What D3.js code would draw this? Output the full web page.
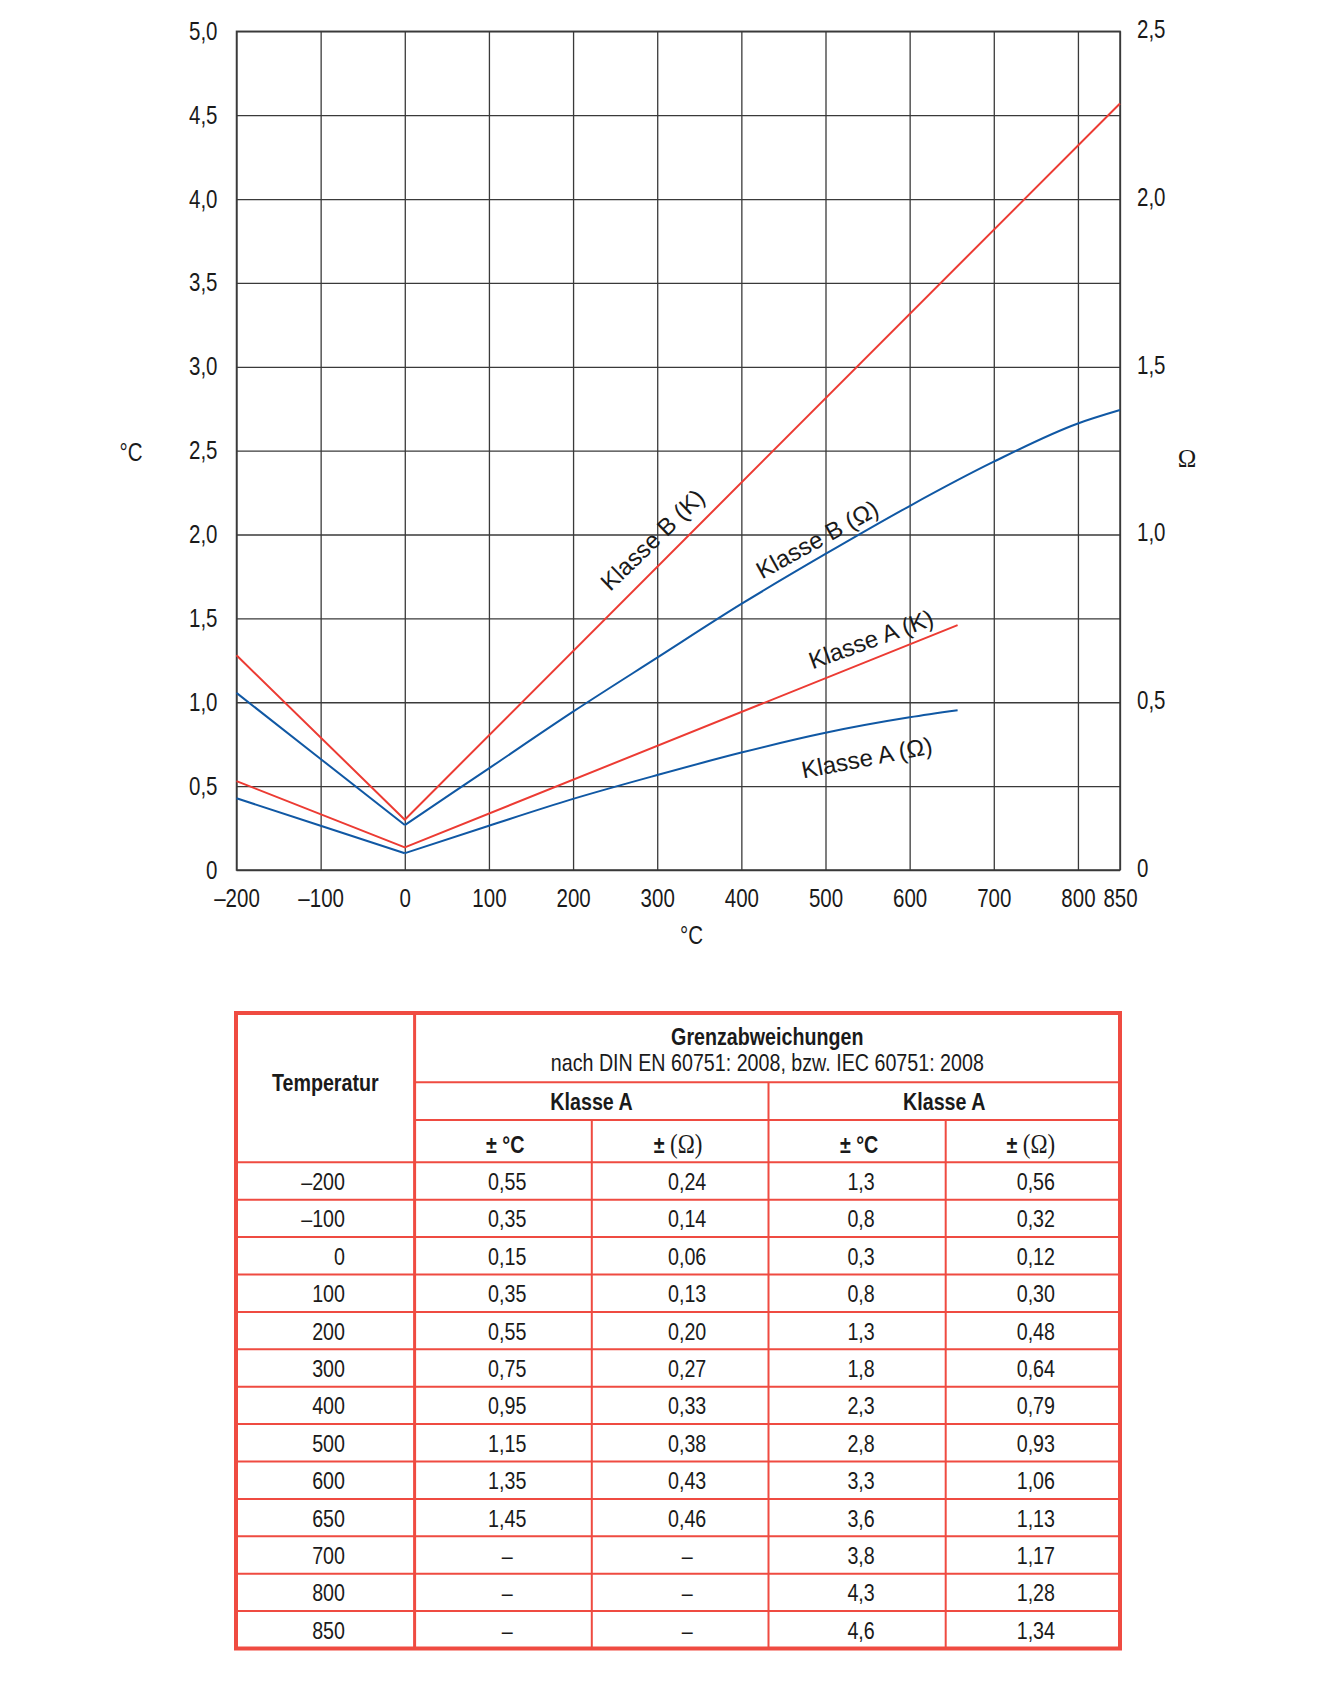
<!DOCTYPE html>
<meta charset="utf-8">
<head>
  <title>Grenzabweichungen Pt100</title>
</head>
<style>
body { margin: 0; background: #fff; }
svg text {
  font-family: "Liberation Sans", Arial, sans-serif;
  fill: #1a1a1a;
}
</style>
<body>
  <svg id="chart" width="1324" height="1684"></svg>
  <script src="https://cdnjs.cloudflare.com/ajax/libs/d3/7.8.5/d3.min.js"></script>
  <script>

// axis ticks
var xTicks = [-200, -100, 0, 100, 200, 300, 400, 500, 600, 700, 800, 850];
var yTicks = [0, 0.5, 1, 1.5, 2, 2.5, 3, 3.5, 4, 4.5, 5];
var ohmTicks = [0, 0.5, 1, 1.5, 2, 2.5];

// curves (red in °C on left axis, blue in Ohm on right axis)
var redB_T = [-200, 0, 850];
var redB_C = [1.28, 0.30, 4.57];
var redA_T = [-200, 0, 657];
var redA_C = [0.53, 0.135, 1.46];
var blueB_T = [-200, -100, 0, 100, 200, 300, 400, 500, 600, 700, 800, 850];
var blueB_Ohm = [0.528, 0.331, 0.134, 0.303, 0.472, 0.633, 0.793, 0.942, 1.085, 1.217, 1.331, 1.371];
var blueA_T = [-200, -100, 0, 100, 200, 300, 400, 500, 600, 657];
var blueA_Ohm = [0.214, 0.132, 0.05, 0.132, 0.212, 0.283, 0.35, 0.409, 0.455, 0.476];

// table
var tableTemps = [-200, -100, 0, 100, 200, 300, 400, 500, 600, 650, 700, 800, 850];
var klasseA_C = [0.55, 0.35, 0.15, 0.35, 0.55, 0.75, 0.95, 1.15, 1.35, 1.45, null, null, null];
var klasseA_Ohm = [0.24, 0.14, 0.06, 0.13, 0.20, 0.27, 0.33, 0.38, 0.43, 0.46, null, null, null];
var klasseB_C = [1.3, 0.8, 0.3, 0.8, 1.3, 1.8, 2.3, 2.8, 3.3, 3.6, 3.8, 4.3, 4.6];
var klasseB_Ohm = [0.56, 0.32, 0.12, 0.30, 0.48, 0.64, 0.79, 0.93, 1.06, 1.13, 1.17, 1.28, 1.34];

var RED = '#ec3b33', BLUE = '#1058a4', TRED = '#ef4b41', GRID = '#3a3a3a';
var NARROW = 0.82;   // no condensed face installed, squeeze Liberation Sans instead

var svg = d3.select('#chart');

var plotL = 236.5, plotR = 1120, plotT = 31.3, plotB = 870;
var x = d3.scaleLinear().domain([-200, 850]).range([plotL, plotR]);
var y = d3.scaleLinear().domain([0, 5]).range([plotB, plotT]);
var yR = d3.scaleLinear().domain([0, 2.5]).range([plotB, plotT]);

var comma = function(d) {
  if (d === 0) return '0';
  return d3.format('.1f')(d).replace('.', ',');
};

// squeeze a text horizontally around its own x
function narrow(sel) {
  sel.attr('transform', function() {
    var x0 = +this.getAttribute('x') || 0;
    return 'translate(' + (x0 * (1 - NARROW)) + ',0) scale(' + NARROW + ',1)';
  });
}

// grid + axis labels
var gy = svg.append('g')
  .attr('transform', 'translate(' + plotL + ',0)')
  .call(d3.axisLeft(y).tickValues(yTicks).tickFormat(comma)
    .tickSizeInner(-(plotR - plotL)).tickSizeOuter(0).tickPadding(19));

var gx = svg.append('g')
  .attr('transform', 'translate(0,' + plotB + ')')
  .call(d3.axisBottom(x).tickValues(xTicks)
    .tickFormat(function(d) { return d < 0 ? '\u2013' + Math.abs(d) : d; })
    .tickSizeInner(-(plotB - plotT)).tickSizeOuter(0).tickPadding(19));

var gr = svg.append('g')
  .attr('transform', 'translate(' + plotR + ',0)')
  .call(d3.axisRight(yR).tickValues(ohmTicks).tickFormat(comma)
    .tickSize(0).tickPadding(17));

[gx, gy, gr].forEach(function(g) {
  g.select('.domain').remove();
  g.selectAll('line').attr('stroke', GRID).attr('stroke-width', 1.3);
  g.selectAll('text')
    .attr('font-family', null)
    .attr('font-size', null)
    .style('font-size', '25px')
    .attr('fill', '#1a1a1a')
    .call(narrow);
});
gr.selectAll('text').attr('dy', '0.25em');

svg.append('rect')
  .attr('x', plotL).attr('y', plotT)
  .attr('width', plotR - plotL).attr('height', plotB - plotT)
  .attr('fill', 'none').attr('stroke', GRID).attr('stroke-width', 1.5);

// axis titles
svg.append('text').attr('x', 131).attr('y', 452).attr('dy', '0.35em')
  .attr('text-anchor', 'middle').style('font-size', '25px').text('°C').call(narrow);
svg.append('text').attr('x', 691.5).attr('y', 935).attr('dy', '0.35em')
  .attr('text-anchor', 'middle').style('font-size', '25px').text('°C').call(narrow);
svg.append('text').attr('x', 1187).attr('y', 458).attr('dy', '0.35em')
  .attr('text-anchor', 'middle')
  .style('font-family', '"Liberation Serif", serif').style('font-size', '25px').text('Ω');

// curves
function pairs(ts, vs) {
  return ts.map(function(t, i) { return [t, vs[i]]; });
}

function drawLine(pts, scaleY, color, curve) {
  svg.append('path')
    .datum(pts)
    .attr('fill', 'none')
    .attr('stroke', color)
    .attr('stroke-width', 2)
    .attr('stroke-linejoin', 'round')
    .attr('d', d3.line()
      .x(function(d) { return x(d[0]); })
      .y(function(d) { return scaleY(d[1]); })
      .curve(curve));
}

drawLine(pairs(redB_T, redB_C), y, RED, d3.curveLinear);
drawLine(pairs(redA_T, redA_C), y, RED, d3.curveLinear);

// blue curves: straight below 0, bent above
[[blueB_T, blueB_Ohm], [blueA_T, blueA_Ohm]].forEach(function(s) {
  var pts = pairs(s[0], s[1]);
  drawLine(pts.filter(function(d) { return d[0] <= 0; }), yR, BLUE, d3.curveLinear);
  drawLine(pts.filter(function(d) { return d[0] >= 0; }), yR, BLUE, d3.curveMonotoneX);
});

// curve labels (placed in data units)
var labels = [
  {text: 'Klasse B (K)', t: 294, v: 1.97, angle: -44},
  {text: 'Klasse B (Ω)', t: 490, v: 1.973, angle: -29},
  {text: 'Klasse A (K)', t: 554, v: 1.377, angle: -20},
  {text: 'Klasse A (Ω)', t: 549, v: 0.671, angle: -11}
];
svg.selectAll('.clabel')
  .data(labels)
  .enter().append('text')
  .attr('class', 'clabel')
  .attr('transform', function(d) {
    return 'translate(' + x(d.t) + ',' + y(d.v) + ') rotate(' + d.angle + ')';
  })
  .attr('text-anchor', 'middle')
  .attr('dy', '0.36em')
  .style('font-size', '24px')
  .attr('fill', '#111')
  .text(function(d) { return d.text; });

// ---- table ----
var cols = [236, 414.6, 591.8, 768.5, 945.7, 1120];
var tTop = 1013, tHead1 = 1082.3, tHead2 = 1120, tHead3 = 1162.3, rowH = 37.4;
var tBottom = tHead3 + rowH * tableTemps.length;
var tbl = svg.append('g');

function hline(y0, x1, x2, w) {
  tbl.append('line').attr('x1', x1).attr('x2', x2).attr('y1', y0).attr('y2', y0)
    .attr('stroke', TRED).attr('stroke-width', w);
}
function vline(x0, y1, y2, w) {
  tbl.append('line').attr('x1', x0).attr('x2', x0).attr('y1', y1).attr('y2', y2)
    .attr('stroke', TRED).attr('stroke-width', w);
}

hline(tHead1, cols[1], cols[5], 2);
hline(tHead2, cols[1], cols[5], 2);
hline(tHead3, cols[0], cols[5], 2);
d3.range(1, tableTemps.length).forEach(function(i) {
  hline(tHead3 + i * rowH, cols[0], cols[5], 2);
});
vline(cols[1], tTop, tBottom, 3);
vline(cols[3], tHead1, tBottom, 2);
vline(cols[2], tHead2, tBottom, 2);
vline(cols[4], tHead2, tBottom, 2);

tbl.append('rect')
  .attr('x', cols[0]).attr('y', tTop)
  .attr('width', cols[5] - cols[0]).attr('height', tBottom - tTop)
  .attr('fill', 'none').attr('stroke', TRED).attr('stroke-width', 4);

function cell(txt, cx, by, bold) {
  return tbl.append('text')
    .attr('x', cx).attr('y', by)
    .attr('text-anchor', 'middle')
    .style('font-size', '24px')
    .style('font-weight', bold ? 'bold' : 'normal')
    .text(txt)
    .call(narrow);
}

var mid = function(i) { return (cols[i] + cols[i + 1]) / 2; };

cell('Temperatur', mid(0), 1091, true);
cell('Grenzabweichungen', (cols[1] + cols[5]) / 2, 1045, true);
cell('nach DIN EN 60751: 2008, bzw. IEC 60751: 2008', (cols[1] + cols[5]) / 2, 1071, false);
cell('Klasse A', (cols[1] + cols[3]) / 2, 1110, true);
cell('Klasse A', (cols[3] + cols[5]) / 2, 1110, true);

[1, 3].forEach(function(i) {
  cell('± °C', mid(i) + 2, 1153, true);
  var t = cell('± ', mid(i + 1) - 2, 1153, true);
  t.append('tspan')
    .style('font-family', '"Liberation Serif", serif')
    .style('font-weight', 'normal')
    .style('font-size', '28px')
    .text('(Ω)');
});

var fmt = function(v, p) {
  return v == null ? '\u2013' : v.toFixed(p).replace('.', ',');
};

tableTemps.forEach(function(t, i) {
  var by = tHead3 + rowH * (i + 0.5) + 9;
  cell(t < 0 ? '\u2013' + Math.abs(t) : String(t), 345, by, false)
    .attr('text-anchor', 'end');
  cell(fmt(klasseA_C[i], 2), mid(1) + 4, by, false);
  cell(fmt(klasseA_Ohm[i], 2), mid(2) + 7, by, false);
  cell(fmt(klasseB_C[i], 1), mid(3) + 4, by, false);
  cell(fmt(klasseB_Ohm[i], 2), mid(4) + 3, by, false);
});
</script>
</body>
</html>
